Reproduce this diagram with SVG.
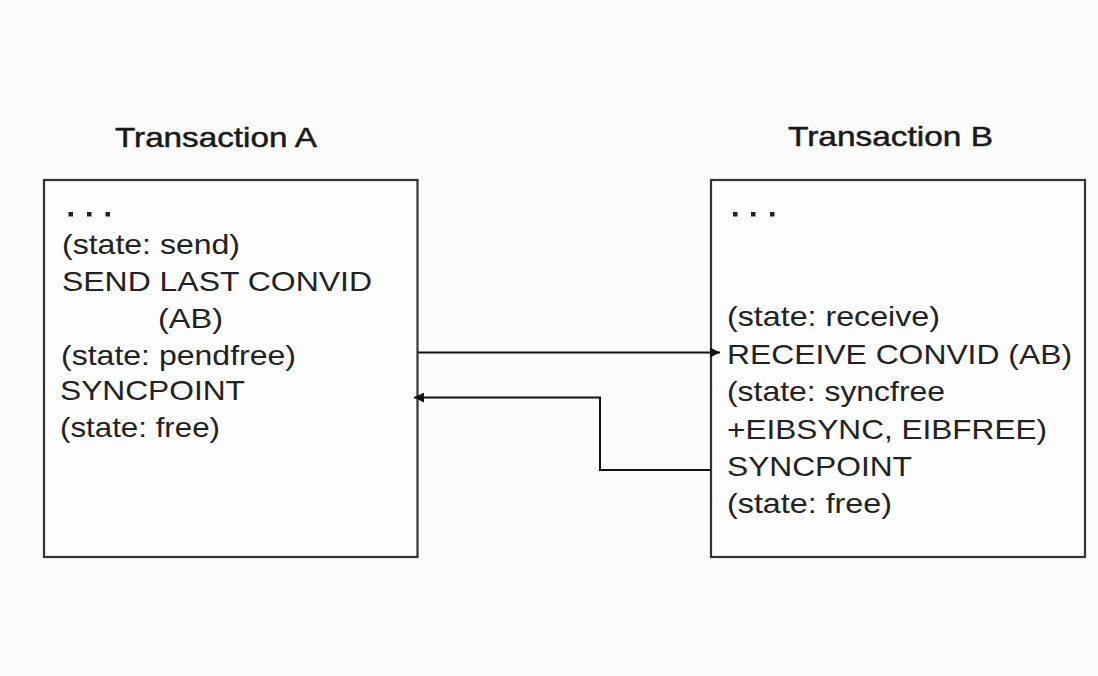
<svg xmlns="http://www.w3.org/2000/svg" width="1098" height="676" viewBox="0 0 1098 676">
<defs>
<style>
.box{fill:#fdfdfd;stroke:#333;stroke-width:2.2}
.t{font-family:"Liberation Sans",Arial,sans-serif;font-size:28px;fill:#222}
.title{font-family:"Liberation Sans",Arial,sans-serif;font-size:28px;fill:#1a1a1a;stroke:#1a1a1a;stroke-width:0.5}
.conn{fill:none;stroke:#111;stroke-width:2}
.dot{fill:#222}
</style>
<marker id="ah" viewBox="0 0 10 10" refX="10" refY="5" markerWidth="10" markerHeight="10" markerUnits="userSpaceOnUse" orient="auto">
<path d="M0,0 L10,5 L0,10 z" fill="#111"/>
</marker>
</defs>
<rect width="1098" height="676" fill="#fcfcfc"/>
<g id="transactionA">
<text class="title" x="115" y="147" textLength="202" lengthAdjust="spacingAndGlyphs">Transaction A</text>
<rect class="box" x="44" y="180" width="373.5" height="377"/>
<rect class="dot" x="68.5" y="212" width="4.5" height="4.5"/>
<rect class="dot" x="87" y="212" width="4.5" height="4.5"/>
<rect class="dot" x="105.5" y="212" width="4.5" height="4.5"/>
<text class="t" x="62" y="254" textLength="178" lengthAdjust="spacingAndGlyphs">(state: send)</text>
<text class="t" x="62" y="291" textLength="310" lengthAdjust="spacingAndGlyphs">SEND LAST CONVID</text>
<text class="t" x="158" y="328" textLength="65" lengthAdjust="spacingAndGlyphs">(AB)</text>
<text class="t" x="61" y="365" textLength="235" lengthAdjust="spacingAndGlyphs">(state: pendfree)</text>
<text class="t" x="60" y="400" textLength="185" lengthAdjust="spacingAndGlyphs">SYNCPOINT</text>
<text class="t" x="60" y="437" textLength="160" lengthAdjust="spacingAndGlyphs">(state: free)</text>
</g>
<g id="transactionB">
<text class="title" x="788" y="146" textLength="205" lengthAdjust="spacingAndGlyphs">Transaction B</text>
<rect class="box" x="711" y="180" width="374" height="377"/>
<rect class="dot" x="733" y="212" width="4.5" height="4.5"/>
<rect class="dot" x="751" y="212" width="4.5" height="4.5"/>
<rect class="dot" x="770" y="212" width="4.5" height="4.5"/>
<text class="t" x="727" y="326" textLength="213" lengthAdjust="spacingAndGlyphs">(state: receive)</text>
<text class="t" x="727" y="364" textLength="345" lengthAdjust="spacingAndGlyphs">RECEIVE CONVID (AB)</text>
<text class="t" x="727" y="401" textLength="218" lengthAdjust="spacingAndGlyphs">(state: syncfree</text>
<text class="t" x="727" y="439" textLength="320" lengthAdjust="spacingAndGlyphs">+EIBSYNC, EIBFREE)</text>
<text class="t" x="727" y="476" textLength="185" lengthAdjust="spacingAndGlyphs">SYNCPOINT</text>
<text class="t" x="727" y="513" textLength="165" lengthAdjust="spacingAndGlyphs">(state: free)</text>
</g>
<g id="connectors">
<path class="conn" d="M418,352.5 L720,352.5" marker-end="url(#ah)"/>
<path class="conn" d="M711,470 L600,470 L600,397.5 L414,397.5" marker-end="url(#ah)"/>
</g>
</svg>
